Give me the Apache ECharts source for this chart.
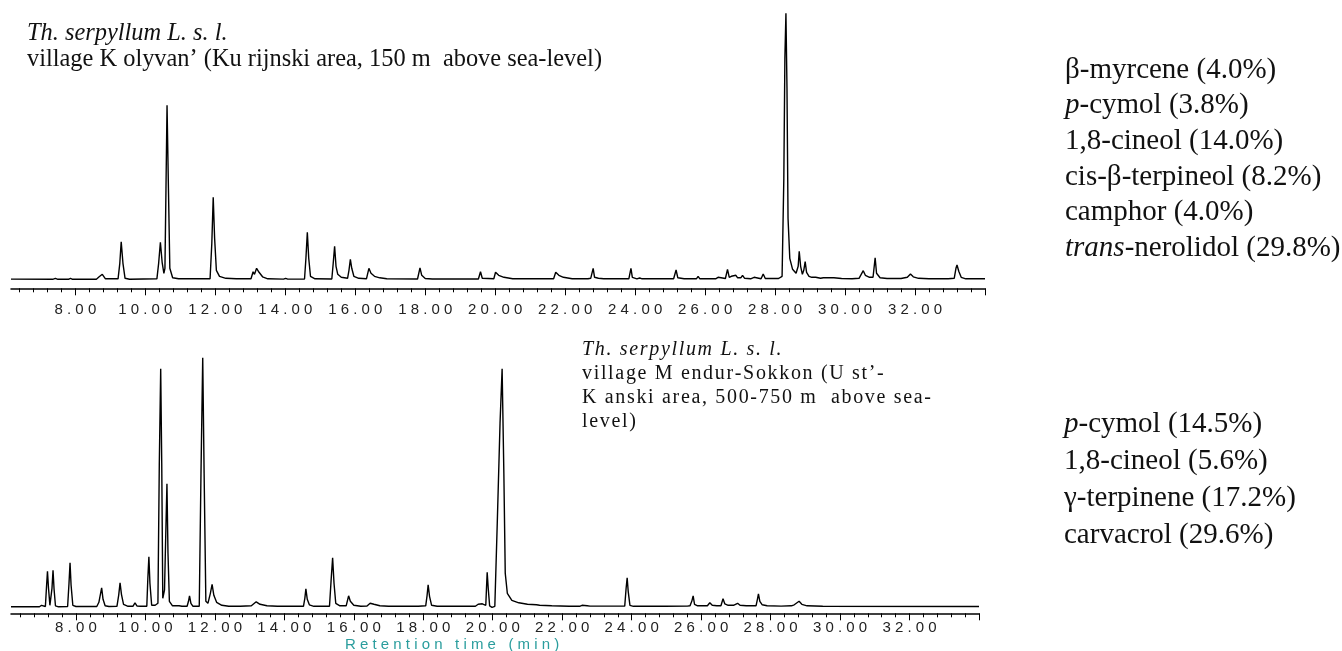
<!DOCTYPE html>
<html>
<head>
<meta charset="utf-8">
<script src="https://cdn.jsdelivr.net/npm/echarts@6/dist/echarts.min.js"></script>
<style>
  html, body { margin: 0; padding: 0; background: #fff; }
  #chart { width: 1342px; height: 651px; }
</style>
</head>
<body>
<div id="chart"></div>
<script>
// retention time (min), signal (px above the axis line)
const kolyvanTrace = [
  [6.16, 9.2], [7.35, 9], [7.43, 10], [7.5, 9], [7.8, 9], [7.86, 10], [7.92, 9],
  [8.6, 9], [8.68, 11.5], [8.72, 11], [8.77, 14], [8.86, 9.5],
  [9.22, 9.5], [9.27, 25], [9.31, 46.5], [9.36, 25], [9.42, 10], [9.55, 9],
  [10.33, 9.5], [10.38, 25], [10.43, 46], [10.48, 26], [10.53, 15], [10.56, 20],
  [10.59, 100], [10.62, 183], [10.66, 100], [10.7, 20], [10.78, 10.5], [10.95, 9.5],
  [11.85, 9.5], [11.9, 45], [11.94, 91], [11.98, 50], [12.03, 18], [12.12, 12], [12.3, 10], [12.6, 9.5],
  [13.02, 9.5], [13.08, 16.5], [13.12, 14], [13.18, 20], [13.25, 16], [13.35, 11.5], [13.5, 9.5],
  [13.95, 9.2], [14.01, 10], [14.07, 9.2],
  [14.55, 9.3], [14.59, 30], [14.63, 56], [14.67, 30], [14.72, 12], [14.85, 9.5],
  [15.33, 9.3], [15.37, 25], [15.41, 42], [15.45, 22], [15.5, 14], [15.53, 15], [15.6, 11],
  [15.78, 10], [15.82, 18], [15.86, 29], [15.9, 20], [15.96, 12], [16.1, 10],
  [16.32, 9.5], [16.39, 20], [16.45, 15], [16.55, 12], [16.7, 10.5], [16.9, 9.5],
  [17.78, 9.3], [17.85, 20.5], [17.9, 13], [18.0, 9.8], [18.2, 9.3],
  [19.52, 9.3], [19.58, 16.5], [19.63, 10],
  [19.96, 9.5], [20.01, 16], [20.1, 13], [20.25, 11], [20.5, 9.5],
  [21.67, 9.5], [21.73, 16], [21.82, 13], [21.95, 11], [22.2, 9.5],
  [22.65, 9.5], [22.73, 10], [22.76, 9.5], [22.8, 20], [22.84, 11], [22.95, 10], [23.1, 9.5],
  [23.82, 9.5], [23.88, 20], [23.92, 11], [24.05, 9.5], [24.13, 10.3], [24.2, 9.5],
  [25.1, 9.5], [25.17, 18.3], [25.22, 10.5], [25.4, 9.5],
  [25.75, 9.5], [25.8, 12], [25.85, 9.5],
  [26.2, 9.5], [26.25, 11], [26.3, 9.5], [26.37, 11], [26.42, 9.8],
  [26.58, 9.8], [26.64, 19], [26.69, 11], [26.75, 12], [26.8, 10.5], [26.88, 13], [26.93, 10.5],
  [26.97, 12], [27.02, 10.5], [27.07, 13], [27.13, 10], [27.3, 9.5], [27.4, 11], [27.45, 9.5],
  [27.6, 9.5], [27.66, 14.3], [27.72, 9.8], [28.1, 9.8],
  [28.2, 12], [28.25, 110], [28.28, 230], [28.31, 275], [28.34, 200], [28.37, 70], [28.42, 30],
  [28.5, 19], [28.6, 15], [28.66, 22], [28.69, 37], [28.73, 22], [28.78, 14], [28.82, 18],
  [28.86, 26.6], [28.9, 16], [28.97, 12], [29.05, 11], [29.1, 13], [29.16, 11], [29.3, 10],
  [29.38, 10.5], [29.43, 12], [29.48, 10.5], [29.57, 10.5], [29.62, 12], [29.68, 10.5], [29.9, 9.8], [30.2, 9.5],
  [30.4, 10], [30.52, 17.6], [30.58, 13], [30.64, 12], [30.7, 11], [30.8, 11], [30.86, 30.6],
  [30.9, 15], [31.0, 10.5], [31.2, 9.8],
  [31.5, 9.8], [31.55, 10], [31.6, 9.8], [31.78, 11], [31.87, 14.3], [31.95, 11.5], [32.1, 10], [32.4, 9.5],
  [32.85, 9.5], [32.9, 10.5], [32.95, 9.5],
  [33.12, 10], [33.17, 20], [33.2, 23.3], [33.25, 17], [33.32, 11], [33.45, 9.5], [34.0, 9.5]
];

const mendurTrace = [
  [6.13, 6.5], [6.95, 6.5], [7.01, 8], [7.06, 6.5],
  [7.12, 6.8], [7.15, 25], [7.18, 42], [7.21, 25], [7.25, 8], [7.28, 7.5], [7.31, 25], [7.34, 43],
  [7.37, 24], [7.41, 7.5], [7.5, 6.5],
  [7.76, 6.8], [7.8, 30], [7.83, 50.5], [7.86, 28], [7.91, 8], [8.0, 6.8],
  [8.6, 6.8], [8.66, 11], [8.69, 10.5], [8.74, 25.5], [8.78, 14], [8.84, 7.5], [8.95, 6.8],
  [9.18, 7], [9.23, 18], [9.27, 30.5], [9.31, 19], [9.37, 9], [9.5, 7],
  [9.64, 7], [9.7, 10.5], [9.76, 7.2], [9.85, 7], [9.89, 8], [9.93, 7],
  [10.04, 7], [10.07, 35], [10.1, 56.5], [10.13, 30], [10.18, 8], [10.28, 8],
  [10.36, 10], [10.4, 150], [10.44, 244.5], [10.47, 150], [10.5, 15], [10.53, 20], [10.55, 23.5],
  [10.58, 70], [10.62, 129.5], [10.65, 60], [10.69, 12], [10.78, 7.5], [10.97, 7.5], [11.0, 8], [11.05, 7],
  [11.2, 7], [11.24, 12], [11.27, 17.5], [11.31, 10], [11.37, 7],
  [11.55, 7], [11.6, 140], [11.65, 255.5], [11.69, 140], [11.74, 12], [11.8, 10], [11.87, 20],
  [11.92, 29], [11.97, 18], [12.05, 11], [12.2, 8], [12.4, 7],
  [12.63, 7], [12.68, 8.5], [12.73, 7],
  [13.05, 7.5], [13.19, 11.5], [13.3, 9], [13.5, 7.5], [13.8, 7],
  [14.0, 7], [14.02, 7.5], [14.05, 7],
  [14.55, 7], [14.59, 15], [14.62, 24.5], [14.66, 14], [14.72, 8.5], [14.85, 7],
  [15.3, 7], [15.35, 35], [15.39, 55.5], [15.43, 30], [15.48, 10], [15.6, 7.5],
  [15.78, 7.5], [15.85, 17.5], [15.9, 12], [16.0, 8], [16.2, 7],
  [16.38, 7.2], [16.47, 10], [16.58, 9], [16.75, 7.5], [17.0, 7],
  [17.78, 7], [17.82, 8], [17.86, 7],
  [18.07, 7.5], [18.11, 18], [18.14, 28.5], [18.18, 17], [18.24, 8], [18.4, 7],
  [19.5, 7], [19.58, 9], [19.63, 8], [19.7, 9.5], [19.75, 7.8],
  [19.8, 8], [19.82, 25], [19.84, 41], [19.87, 25], [19.91, 7.5], [19.98, 6],
  [20.06, 7], [20.13, 90], [20.21, 190], [20.27, 244.5], [20.32, 140], [20.36, 40], [20.42, 20],
  [20.55, 13], [20.75, 10.5], [21.0, 9], [21.26, 8.5], [21.3, 9.5], [21.35, 8], [21.7, 7.5], [22.2, 7],
  [22.5, 7], [22.57, 8], [22.62, 7.2], [22.72, 7.5], [22.76, 8.5], [22.8, 7.2],
  [23.8, 7.2], [23.84, 25], [23.87, 35.5], [23.9, 22], [23.95, 8], [24.05, 7],
  [24.12, 7], [24.17, 8], [24.22, 7], [24.88, 7], [24.92, 7.8], [24.96, 7],
  [25.6, 7.2], [25.64, 8.5], [25.68, 7.5], [25.73, 12], [25.77, 17.5], [25.81, 9], [25.9, 7.5],
  [26.18, 7.5], [26.25, 10.5], [26.32, 8], [26.45, 7.5],
  [26.57, 7.5], [26.63, 14.5], [26.68, 9.5], [26.78, 8], [26.93, 8], [27.05, 10], [27.12, 8], [27.3, 7.5],
  [27.58, 7.5], [27.62, 14], [27.65, 19.5], [27.69, 12], [27.76, 8.5], [27.9, 7.5], [28.3, 7.2],
  [28.6, 7.5], [28.68, 8.5], [28.73, 7.8], [28.82, 12], [28.9, 9], [29.05, 7.5], [29.5, 7], [34.0, 6.8]
];

const majorTicks = [8, 10, 12, 14, 16, 18, 20, 22, 24, 26, 28, 30, 32, 34];
const tickLabels = [8, 10, 12, 14, 16, 18, 20, 22, 24, 26, 28, 30, 32];

const topNote = ['Th. serpyllum L. s. l.', 'village K olyvan’ (Ku rijnski area, 150 m  above sea-level)'];
const bottomNote = ['Th. serpyllum L. s. l.', 'village M endur-Sokkon (U st’-', 'K anski area, 500-750 m  above sea-', 'level)'];
const topCompounds = ['β-myrcene (4.0%)', '{i|p}-cymol (3.8%)', '1,8-cineol (14.0%)', 'cis-β-terpineol (8.2%)', 'camphor (4.0%)', '{i|trans}-nerolidol (29.8%)'];
const bottomCompounds = ['{i|p}-cymol (14.5%)', '1,8-cineol (5.6%)', 'γ-terpinene (17.2%)', 'carvacrol (29.6%)'];
const axisTitle = 'Retention time (min)';

// minor ticks every 0.4 min between the labelled ones
const minorTicks = [];
for (let i = 16; i <= 85; i++) {
  const v = +(i * 0.4).toFixed(1);
  if (v % 2 !== 0) minorTicks.push(v);
}

const spaced = (s, sep) => s.split('').join(sep);
const serif = '"Liberation Serif", "Times New Roman", serif';
const sans = '"Liberation Sans", Arial, sans-serif';

function xAxes(grid, min, max, margin) {
  return [{
    gridIndex: grid, type: 'value', position: 'bottom', min: min, max: max,
    axisLine: { show: true, onZero: false, lineStyle: { color: '#000', width: 1.5 } },
    axisTick: { show: true, customValues: majorTicks, length: 7, lineStyle: { color: '#000', width: 1 } },
    axisLabel: {
      customValues: tickLabels, margin: margin, color: '#222',
      fontFamily: sans, fontSize: 15,
      formatter: v => spaced(v.toFixed(2), ' ')
    },
    splitLine: { show: false }
  }, {
    gridIndex: grid, type: 'value', position: 'bottom', offset: 0, min: min, max: max,
    axisLine: { show: false, onZero: false },
    axisTick: { show: true, customValues: minorTicks, length: 4, lineStyle: { color: '#000', width: 1 } },
    axisLabel: { show: false },
    splitLine: { show: false }
  }];
}

function textLines(lines, x, y0, step, size, italicFirst, sep) {
  return lines.map((t, i) => ({
    type: 'text', x: x, y: y0 + i * step, silent: true,
    style: {
      text: sep ? spaced(t, sep) : t,
      fill: '#111', fontFamily: serif, fontSize: size,
      fontStyle: (italicFirst && i === 0) ? 'italic' : 'normal',
      align: 'left', verticalAlign: 'middle',
      rich: { i: { fontStyle: 'italic', fontFamily: serif, fontSize: size } }
    }
  }));
}

const chart = echarts.init(document.getElementById('chart'));
chart.setOption({
  animation: false,
  backgroundColor: '#fff',
  grid: [
    { left: 11, top: 8, width: 974, height: 280.3 },
    { left: 11, top: 343.3, width: 968, height: 270 }
  ],
  xAxis: [].concat(xAxes(0, 6.16, 34, 14), xAxes(1, 6.13, 34, 7)),
  yAxis: [
    { gridIndex: 0, type: 'value', min: 0, max: 280.3, show: false },
    { gridIndex: 1, type: 'value', min: 0, max: 270, show: false }
  ],
  series: [
    { type: 'line', xAxisIndex: 0, yAxisIndex: 0, data: kolyvanTrace, showSymbol: false, symbol: 'none',
      silent: true, clip: false, lineStyle: { color: '#000', width: 1.4 } },
    { type: 'line', xAxisIndex: 2, yAxisIndex: 1, data: mendurTrace, showSymbol: false, symbol: 'none',
      silent: true, clip: false, lineStyle: { color: '#000', width: 1.4 } }
  ],
  graphic: [].concat(
    textLines(topNote, 27, 34, 26, 24.4, true),
    textLines(bottomNote, 582, 350, 24, 20, true, '\u200A'),
    textLines(topCompounds, 1065, 70, 35.7, 29, false),
    textLines(bottomCompounds, 1064, 424, 37, 29, false),
    [{
      type: 'text', x: 345, y: 645, silent: true,
      style: { text: spaced(axisTitle, ' '), fill: '#2a9d9d', fontFamily: sans, fontSize: 15,
        align: 'left', verticalAlign: 'middle' }
    }]
  )
});
</script>
</body>
</html>
